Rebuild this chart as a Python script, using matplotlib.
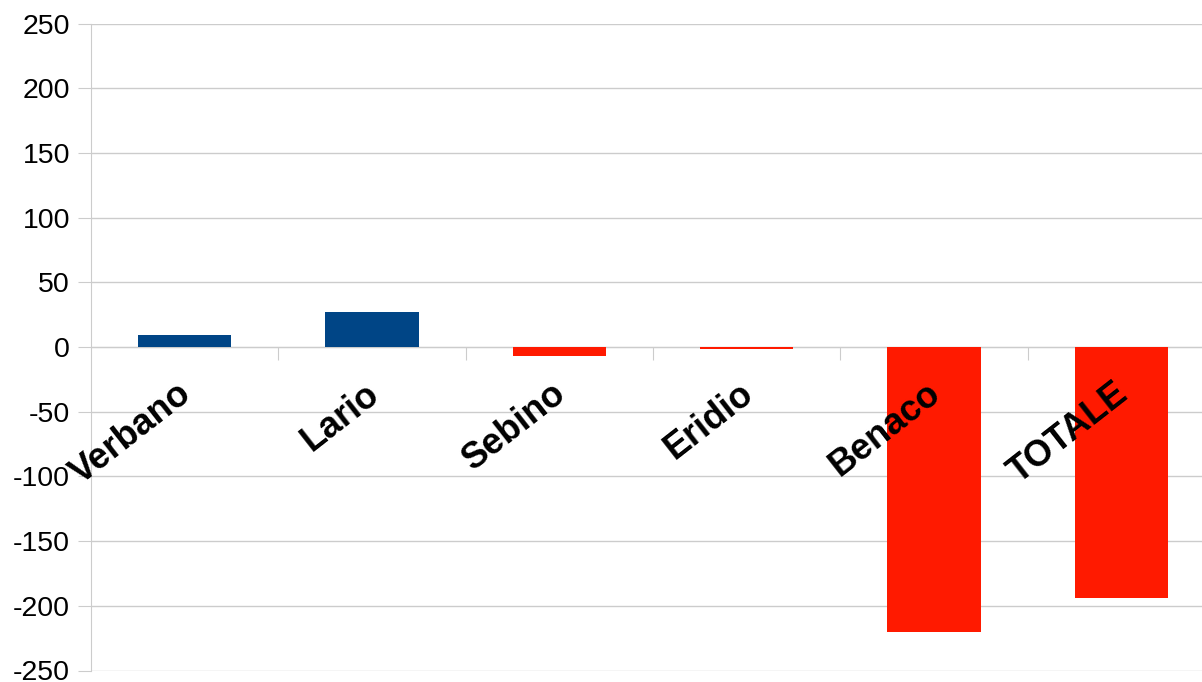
import matplotlib
matplotlib.use("Agg")
import matplotlib.pyplot as plt
from matplotlib.transforms import offset_copy

categories = ["Verbano", "Lario", "Sebino", "Eridio", "Benaco", "TOTALE"]
values = [9, 27, -7, -1.3, -220, -194]
yticks = [250, 200, 150, 100, 50, 0, -50, -100, -150, -200, -250]

BLUE = "#004586"
RED = "#ff1a00"
GRID = "#cccccc"

plt.rcParams['font.family'] = ['Liberation Sans', 'DejaVu Sans']

fig = plt.figure(figsize=(12.02, 6.82), dpi=100)
ax = fig.add_axes([91/1202, 1 - 670.5/682, (1215-91)/1202, (670.5-23.5)/682])

x = list(range(len(categories)))
colors = [BLUE if v >= 0 else RED for v in values]
ax.bar(x, values, width=0.5, color=colors, linewidth=0, zorder=3)

ax.set_xlim(-0.5, len(categories) - 0.5)
ax.set_ylim(-250, 250)
ax.set_yticks(yticks)
ax.set_yticklabels([str(t) for t in yticks], fontsize=20.5)
ax.yaxis.grid(True, color=GRID, linewidth=1.0, zorder=0)
ax.tick_params(axis='y', length=9.4, color=GRID, pad=5.8, labelcolor='black')

ax.set_xticks([i + 0.5 for i in range(len(categories) - 1)])
ax.set_xticklabels([])
ax.tick_params(axis='x', direction='out', length=9, color=GRID)

for s in ['top', 'right']:
    ax.spines[s].set_visible(False)
ax.spines['left'].set_color(GRID)
ax.spines['bottom'].set_color(GRID)
ax.spines['bottom'].set_position(('data', 0))
ax.spines['bottom'].set_zorder(1)
ax.spines['left'].set_zorder(1)

trans = offset_copy(ax.transData, fig=fig, x=-8, y=-29, units='dots')
for i, c in enumerate(categories):
    ax.text(i, 0, c, transform=trans, rotation=38, rotation_mode='anchor',
            ha='right', va='top', fontsize=26, fontweight='bold', color='black', zorder=4)

fig.savefig("out.png", dpi=100)
